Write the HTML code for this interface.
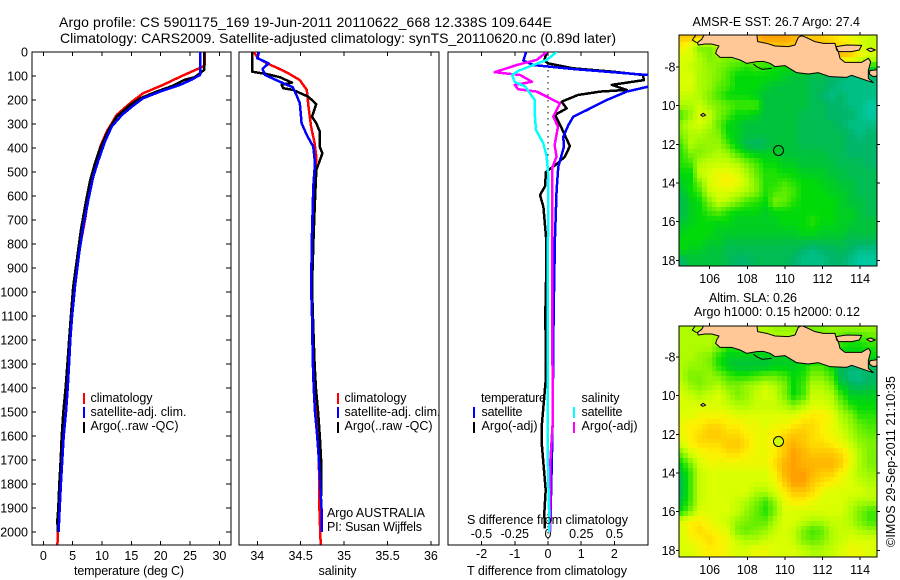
<!DOCTYPE html>
<html lang="en">
<head>
<meta charset="utf-8">
<title>Argo profile CS 5901175_169</title>
<style>
html,body{margin:0;padding:0;background:#fff;}
svg{display:block;}
text{font-family:"Liberation Sans",sans-serif;font-size:12.5px;fill:#000;}
.ttl{font-size:14px;}
.coast{fill:#ffc896;stroke:#000;stroke-width:3;stroke-linejoin:round;}
.coastline{fill:none;stroke:#000;stroke-width:3;}
</style>
</head>
<body>
<svg id="chart" width="900" height="580" viewBox="0 0 900 580" xmlns="http://www.w3.org/2000/svg">
<defs>
<clipPath id="clip-temp"><rect x="32" y="52" width="199" height="493"/></clipPath>
<clipPath id="clip-sal"><rect x="239" y="52" width="200" height="493"/></clipPath>
<clipPath id="clip-diff"><rect x="448" y="52" width="200" height="493"/></clipPath>
<clipPath id="clip-map1"><rect x="679" y="35" width="198" height="231"/></clipPath>
<clipPath id="clip-map2"><rect x="679" y="326" width="198" height="231"/></clipPath>
</defs>
<rect width="900" height="580" fill="#fff"/>

<text class="ttl" x="59" y="27" textLength="493" lengthAdjust="spacing">Argo profile: CS 5901175_169 19-Jun-2011 20110622_668 12.338S 109.644E</text>
<text class="ttl" x="60" y="43" textLength="556" lengthAdjust="spacing">Climatology: CARS2009. Satellite-adjusted climatology: synTS_20110620.nc (0.89d later)</text>

<g id="map1-cells" clip-path="url(#clip-map1)"></g>
<g clip-path="url(#clip-map1)">
<g transform="translate(660,0) scale(0.33333)">
<path class="coast" d="M135 100 L125 118 L112 128 L115 135 L135 132 L155 132 L177 138 L170 150 L167 160 L180 172 L215 172 L240 180 L260 190 L290 185 L310 184 L330 190 L345 200 L375 197 L385 203 L410 218 L445 222 L475 218 L510 230 L560 232 L575 226 L610 238 L640 248 L625 235 L625 212 L632 185 L625 175 L605 187 L555 187 L540 175 L535 155 L530 150 L525 130 L490 130 L465 125 L440 113 L425 107 L415 112 L405 135 L385 140 L345 138 L320 130 L293 125 L290 100 Z"/>
<path class="coast" d="M528 140 L560 135 L605 136 L598 150 L575 155 L535 155 Z"/>
<path class="coast" d="M630 212 L660 208 L660 226 L640 230 L628 222 Z"/>
<path class="coast" d="M620 148 L632 144 L646 150 L632 155 Z"/>
<path class="coastline" d="M280 192 L290 200 L307 208 L335 205"/>
<path class="coastline" d="M107 106 L97 120 L110 128"/>
<path class="coast" d="M122 345 L130 340 L137 346 L128 349 Z"/>
</g>
</g>

<g id="map2-cells" clip-path="url(#clip-map2)"></g>
<g clip-path="url(#clip-map2)">
<g transform="translate(660,290) scale(0.33333)">
<path class="coast" d="M135 100 L125 118 L112 128 L115 135 L135 132 L155 132 L177 138 L170 150 L167 160 L180 172 L215 172 L240 180 L260 190 L290 185 L310 184 L330 190 L345 200 L375 197 L385 203 L410 218 L445 222 L475 218 L510 230 L560 232 L575 226 L610 238 L640 248 L625 235 L625 212 L632 185 L625 175 L605 187 L555 187 L540 175 L535 155 L530 150 L525 130 L490 130 L465 125 L440 113 L425 107 L415 112 L405 135 L385 140 L345 138 L320 130 L293 125 L290 100 Z"/>
<path class="coast" d="M528 140 L560 135 L605 136 L598 150 L575 155 L535 155 Z"/>
<path class="coast" d="M630 212 L660 208 L660 226 L640 230 L628 222 Z"/>
<path class="coast" d="M620 148 L632 144 L646 150 L632 155 Z"/>
<path class="coastline" d="M280 192 L290 200 L307 208 L335 205"/>
<path class="coastline" d="M107 106 L97 120 L110 128"/>
<path class="coast" d="M122 345 L130 340 L137 346 L128 349 Z"/>
</g>
</g>

<g id="axes"></g>
<g id="temp-lines" clip-path="url(#clip-temp)"></g>
<g id="sal-lines" clip-path="url(#clip-sal)"></g>
<g id="diff-lines" clip-path="url(#clip-diff)"></g>

<g>
<rect x="83" y="393" width="2" height="11" fill="#f00"/>
<rect x="83" y="407" width="2" height="11" fill="#00f"/>
<rect x="83" y="422" width="2" height="11" fill="#000"/>
<text x="90.5" y="402" textLength="62">climatology</text>
<text x="90.5" y="416" textLength="96">satellite-adj. clim.</text>
<text x="90.5" y="430" textLength="88">Argo(..raw -QC)</text>
</g>
<g>
<rect x="337" y="393" width="2" height="11" fill="#f00"/>
<rect x="337" y="407" width="2" height="11" fill="#00f"/>
<rect x="337" y="422" width="2" height="11" fill="#000"/>
<text x="344.5" y="402" textLength="62">climatology</text>
<text x="344.5" y="416" textLength="96">satellite-adj. clim.</text>
<text x="344.5" y="430" textLength="88">Argo(..raw -QC)</text>
<text x="327" y="517" textLength="98">Argo AUSTRALIA</text>
<text x="327" y="531" textLength="95">PI: Susan Wijffels</text>
</g>
<g>
<text x="481" y="402" textLength="65">temperature</text>
<rect x="473" y="407" width="2" height="11" fill="#00f"/>
<rect x="473" y="422" width="2" height="11" fill="#000"/>
<text x="481.5" y="416" textLength="41">satellite</text>
<text x="481.5" y="430" textLength="56">Argo(-adj)</text>
<text x="581.5" y="402" textLength="38">salinity</text>
<rect x="573" y="407" width="2" height="11" fill="#0ff"/>
<rect x="573" y="422" width="2" height="11" fill="#f0f"/>
<text x="581.5" y="416" textLength="41">satellite</text>
<text x="581.5" y="430" textLength="56">Argo(-adj)</text>
</g>

<text x="467" y="524" textLength="161">S difference from climatology</text>
<text x="74" y="575" textLength="110">temperature (deg C)</text>
<text x="318.5" y="575" textLength="38">salinity</text>
<text x="467" y="575" textLength="160">T difference from climatology</text>

<text x="692.5" y="26" textLength="167.5">AMSR-E SST: 26.7 Argo: 27.4</text>
<text x="709" y="302" textLength="88">Altim. SLA: 0.26</text>
<text x="694" y="316" textLength="166">Argo h1000: 0.15 h2000: 0.12</text>
<text transform="translate(895,547) rotate(-90)" textLength="171">©IMOS 29-Sep-2011 21:10:35</text>

<circle cx="778.5" cy="150.5" r="5" fill="#00c828" stroke="#000" stroke-width="1"/>
<circle cx="778.5" cy="441.5" r="5" fill="#d2ff00" stroke="#000" stroke-width="1"/>

<script>
// ---------- Profile data (depth in dbar, values in physical units) ----------
const depthTicks = [0,100,200,300,400,500,600,700,800,900,1000,1100,1200,1300,1400,1500,1600,1700,1800,1900,2000];
const tempTicks = [0,5,10,15,20,25,30];
const salTicks = [34,34.5,35,35.5,36];
const salTickLabels = ['34','34.5','35','35.5','36'];
const tDiffTicks = [-2,-1,0,1,2];
const sDiffTicks = [-0.5,-0.25,0,0.25,0.5];
const sDiffTickLabels = ['-0.5','-0.25','0','0.25','0.5'];
const lonTicks = [106,108,110,112,114];
const latTicks = [-8,-10,-12,-14,-16,-18];
const latTickLabels = ['-8','10','12','14','16','18'];

const tempClimDepth = [0,54,61,100,137,172,207,262,332,395,478,555,700,811,936,1000,1100,1200,1300,1400,1500,1600,1700,1800,1900,2000,2053];
const tempClimValue = [27.5,27.5,27.2,23.6,20.4,17,15.1,12.5,10.8,9.7,8.8,8,7.1,6.25,5.4,5.15,4.85,4.55,4.35,4.1,3.85,3.45,3.2,3,2.75,2.5,2.4];
const tempSatDepth = [0,96,115,137,165,193,228,262,311,374,450,520,617,728,840,978,1100,1200,1300,1400,1500,1600,1700,1800,1900,2000];
const tempSatValue = [26.7,26.7,25.3,23.3,19.9,17,15.1,13.4,11.65,10.5,9.4,8.5,7.67,6.8,6.1,5.4,4.9,4.6,4.4,4.15,3.87,3.47,3.24,3,2.8,2.6];
const tempArgoDepth = [0,75,105,116,142,165,193,220,270,325,400,463,533,617,742,853,978,1100,1200,1300,1400,1500,1600,1700,1800,1900,1950,2000];
const tempArgoValue = [27.4,27.4,25.8,24.1,21.9,19.3,16.5,14.8,12.5,11.1,9.7,8.8,8,7.3,6.4,5.8,5.1,4.7,4.4,4.1,3.8,3.4,3.13,2.96,2.73,2.56,2.4,2.45];

const salClimDepth = [0,6,26,47,68,89,117,158,228,311,380,436,500,600,800,1000,1200,1400,1500,1700,1900,2053];
const salClimValue = [33.97,33.97,34.01,34.11,34.24,34.36,34.49,34.57,34.59,34.62,34.66,34.68,34.67,34.665,34.64,34.63,34.64,34.66,34.68,34.71,34.715,34.73];
const salSatDepth = [0,26,47,71,96,124,147,179,213,297,346,395,463,560,755,978,1100,1200,1300,1400,1500,1600,1700,1800,1900,2000];
const salSatValue = [34.02,34,34.13,34.06,34.09,34.26,34.41,34.45,34.49,34.51,34.57,34.645,34.665,34.645,34.63,34.62,34.63,34.635,34.64,34.65,34.665,34.69,34.71,34.725,34.74,34.745];
const salArgoDepth = [0,82,92,105,128,137,151,158,186,217,270,297,332,395,422,492,617,755,978,1100,1200,1300,1400,1500,1600,1700,1850];
const salArgoValue = [33.94,33.94,34.11,34.26,34.4,34.28,34.3,34.41,34.585,34.68,34.63,34.68,34.72,34.72,34.75,34.68,34.665,34.65,34.63,34.64,34.65,34.66,34.675,34.7,34.72,34.735,34.74];

const tDiffSatDepth = [0,36,54,71,96,115,145,165,200,242,270,305,353,395,478,575,770,1000,1200,1367,1546,1728,1850,2000];
const tDiffSatValue = [-0.66,-0.74,-0.45,0.75,3.0,3.6,3.0,2.37,1.77,1.17,0.76,0.61,0.46,0.48,0.31,0.26,0.21,0.18,0.16,0.15,0.14,0.11,0.09,0.07];
const tDiffArgoDepth = [0,36,47,68,82,96,117,137,158,165,179,207,235,262,304,317,392,436,467,499,560,596,645,770,900,1100,1300,1367,1450,1546,1630,1728,1825,1922,1985];
const tDiffArgoValue = [-0.04,-0.11,0,0.75,1.96,2.86,2.89,1.92,2.37,1.57,0.9,0.41,0.56,0.21,0.36,0.41,0.66,0.51,0.26,-0.06,-0.09,-0.24,-0.14,-0.06,-0.05,-0.08,-0.06,-0.07,-0.12,-0.18,-0.19,-0.13,-0.07,-0.11,-0.09];
const sDiffSatDepth = [0,33,54,78,96,124,145,200,256,325,380,436,500,770,1200,1546,1728,1922,2000];
const sDiffSatValue = [0.065,-0.01,-0.11,-0.22,-0.27,-0.25,-0.17,-0.1,-0.1,-0.09,-0.035,-0.01,0,0,-0.002,-0.002,0,0.008,0.008];
const sDiffArgoDepth = [0,33,54,84,96,124,137,155,165,186,214,270,311,388,436,485,770,1200,1410,1546,1728,2000];
const sDiffArgoValue = [-0.01,-0.085,-0.235,-0.4,-0.21,-0.12,-0.25,-0.225,-0.085,-0.01,0.09,0.04,0.075,0.05,0.065,0.03,0.03,0.032,0.035,0.035,0.015,0.015];

// ---------- Map grids: colour-scale level, rows lat -6.5..-18, cols lon 104.5..114.5 (0.5 deg) ----------
const sstValues = [
[9,9,9,9,9,9,9,9,9.5,10,10,10,9.5,9,9,9,8.5,8,7.5,7,6.5],
[8,7,5,5,6,6,9,9,9,9,9,9,9,9,9,9,9,8.5,8,7,6.5],
[7,7,6,5,5.5,5,5,5,5,5,5,5,5,5,5,9,9.5,9.5,9,8,7],
[7,6.5,6,5.5,5,4.5,4,3.5,4,3.5,3,3,3,3,3,3,3,3,3,3,3],
[7,7,6,5.5,5,4,3,3,3,3,3,2.5,2,2,1.5,1.5,1,1,0.5,0.5,1],
[7,7,6,5.5,4.5,4,3,3,3,2.5,2,2,2,2,1.5,1.5,1,0.5,0.5,0.5,0.5],
[6.5,6.5,6,5,4,3,3,3,2.5,2,2,2,2,2,1.5,1,0.5,1,0.5,0.5,0.5],
[6,6,6.5,5.5,5,4.5,4,4,4,2,2,2,2,2,1.5,1.5,1,1,0.5,0.5,0],
[4,5.5,7,6.5,5,4,3,3,2.5,2,2,2,2,1.5,1.5,1.5,1,1,1,0.5,0],
[5.5,6.5,7,6,4.5,3,2.5,2,2,2,2,2,2,1.5,1.5,1.5,1.5,1,0.5,0.5,0.5],
[5,6,6,5.5,5,3,2.5,2,2,2,2,2,2,1.5,1.5,1.5,1.5,1.5,1,0.5,1],
[4,6,5.5,5.5,5.5,4,2.5,1.5,1,1.5,2,2,2,1.5,1.5,1.5,1.5,1.5,1,1,1],
[3.5,5,5,5.5,6,5.5,4,3,2.5,2.5,2.5,2,2,2,2,2,1.5,1.5,1,1,1],
[3.5,4,6,6.5,6.5,6.5,6,5,4,3,3,2.5,2.5,2,2,2,2,1.5,1.5,1.5,1],
[3,3,6.5,7,7.5,7.5,7,6,4.5,3.5,3.5,3,3,2.5,2.5,2.5,2,2,1.5,1.5,1.5],
[2.5,3,5,7,7.5,8,7.5,6.5,5,3.5,3.5,4,3.5,3,3,2.5,2.5,2,2,1.5,1.5],
[2,3,4,6.5,7,7,6.5,6,5,3.5,4,4.5,4,3,3,3,2.5,2.5,2,1.5,1.5],
[1.5,2.5,3,5,6.5,6,5,4,3.5,3,5,4.5,3.5,3,3,3,3,2.5,2,2,1.5],
[1.5,2.5,3,4,4.5,3.5,3,3,3,2.5,3,3,3,3,3,3,3,2.5,2.5,2,1.5],
[2,2.5,3,3,3,3,2.5,2.5,2.5,2.5,2.5,3,3,3,3.5,3,3,2.5,2.5,2,2],
[2.5,3,3,3,2.5,2.5,2.5,2.5,2.5,2.5,2.5,2.5,2.5,3,3,2.5,2.5,2.5,2,2,2],
[3,3,3,2.5,2.5,2,2,2,2,2,2,2,2,2,2,2,2,2,1.5,1.5,1.5],
[3,2.5,2.5,2,2,1.5,1.5,1.5,1.5,1.5,1.5,1.5,1.5,1,0.5,1,1,1.5,1,0.5,0.5],
[1,2,2,2,2,1.5,1,1,1.5,1.5,1.5,1.5,1,0.5,0.5,0.5,1,1,0.5,0,0]
];
const slaValues = [
[6,6,6,6,6,6,6,6,6,6,5.5,5.5,5.5,5,5,5,5.5,5.5,5.5,5.5,5.5],
[6,6,6,6,6,6,6,6,6,6,6,6,6,5.5,5,5,5,4.5,4,4,4.5],
[6,6,6,6,5,3.5,3.5,3.5,3.5,3,3,3,3,3,3,3,3,3.5,3,3,3.5],
[6,6,5.5,5,3.5,2.5,2.5,2.5,2.5,2.5,2.5,2.5,2.5,2.5,2.5,2.5,2.5,2.5,2.5,2.5,3],
[6,5.5,5.5,5,3.5,2.5,2,2,2,2,2.5,2.5,2.5,3,4,4,3,1.5,1,1,1.5],
[6,5,5,5.5,5,4,3.5,3.5,4,4.5,4.5,4,3,3.5,5,5,4,1.5,0.5,0.5,1],
[6.5,5.5,5,5.5,6,5,5,5.5,6,6.5,6,5,3,4,6,6,5,2.5,1.5,1,1.5],
[7,6.5,6,6.5,7,6,5,5.5,6.5,7,6.5,5,3,4,6.5,6.5,6,4,2.5,2.5,2.5],
[7,7,7,7,7,6.5,6,6,6.5,6.5,6.5,6,5,6,7,7,6.5,5,3.5,3,3],
[7,7,7.5,7.5,7.5,7.5,7,7,7,7,7,7,7,7.5,8,8,7.5,6,5,3.5,3.5],
[7.5,8,8,8.5,8.5,8,8,7.5,7.5,7,7.5,7.5,8,8.5,8.5,8,7.5,6.5,5.5,4.5,4],
[7.5,8,8.5,9,9,8.5,8.5,8,7.5,7.5,8,8.5,9,9,8.5,8,7.5,7,6,5,4.5],
[7,8,8.5,8.5,8.5,9,9,8.5,7.5,7.5,8,9,9.5,9,8.5,8.5,8,7.5,6.5,5.5,5],
[5,7,7.5,8,8,8.5,8.5,8,7.5,7.5,8,9,10,9.5,9,9,9,8.5,7.5,6,5],
[3,5,7,7.5,7.5,7.5,7.5,7.5,7.5,7.5,8.5,9.5,10,9.5,9.5,9.5,9.5,9,7.5,6,5],
[2,4,6.5,7,7,7,7,7,7,7,8,9.5,10,10,9.5,9,9,8,7,6,5.5],
[1.5,4,6.5,7,7,7,7,7,7,7,7.5,9,10,10,9,8.5,8,7.5,7,6.5,6],
[1.5,4,6.5,7,7,7,7,7,6,6,7,8,9,9,8.5,7.5,7,7,7,7,6.5],
[2,4,6.5,7,7,7,6.5,6,5,4,5.5,7.5,8,8,7.5,7,7,7,6.5,6,6],
[3,5,7,7,7,7,6.5,5.5,4.5,3.5,5,7,7,7,7,7,7,7,6,5,4],
[7,8,8,7.5,7,6.5,5.5,5,4.5,4.5,6,7,7,6.5,6,6,6.5,6.5,6,5,4],
[7,8,8.5,8,7.5,7,5,4.5,5,5.5,6.5,7,6.5,5,4,4.5,6,6.5,6.5,6,5.5],
[7,7.5,8,8.5,8,7.5,6.5,6,6,6.5,7,7,6.5,5,4.5,5,6,6.5,7,7,7],
[7,7,7.5,8,8,7.5,7,7,7.5,7.5,7,7,7,6.5,6,6,6.5,7,7.5,7.5,7]
];
const colourLevels = ['0,200,160','0,182,105','0,195,60','0,218,8','65,232,0','125,242,0','175,252,0','218,255,0','255,240,0','255,200,0','255,160,0'];

// ---------- Axis functions ----------
const depthY = d => 52 + d * 0.24;
const tempX = t => 43.3 + t * 5.87;
const salX = s => 257.3 + (s - 34) * 86.8;
const tDiffX = t => 548 + t * 33.2;
const sDiffX = s => 548 + s * 133;
const lonX = lon => 709.7 + (lon - 106) * 18.8;
const latY1 = lat => 67 + (-8 - lat) * 19.33;
const latY2 = lat => 357 + (-8 - lat) * 19.33;

const NS = 'http://www.w3.org/2000/svg';
const root = document.getElementById('chart');
const axes = document.getElementById('axes');
function make(parent, tag, attrs) {
  const el = document.createElementNS(NS, tag);
  for (const k in attrs) el.setAttribute(k, attrs[k]);
  parent.appendChild(el);
  return el;
}
function tick(x1, y1, x2, y2) {
  const el = make(axes, 'line', {x1, y1, x2, y2, stroke: '#000', 'stroke-width': 1, 'shape-rendering': 'crispEdges'});
  
  
}
function label(str, x, y, anchor) {
  const el = make(axes, 'text', {x, y, 'text-anchor': anchor});
  el.textContent = str;
  
  
}
function frame(x, y, w, h) {
  const el = make(axes, 'rect', {x, y, width: w, height: h, fill: 'none', stroke: '#000', 'stroke-width': 1.4, 'shape-rendering': 'crispEdges'});
  
  
}
function series(parentId, depth, values, xFn, colour) {
  const pts = depth.map((d, i) => xFn(values[i]).toFixed(1) + ',' + depthY(d).toFixed(1)).join(' ');
  const el = make(document.getElementById(parentId), 'polyline', {points: pts, fill: 'none', stroke: colour, 'stroke-width': 2.5, 'shape-rendering': 'crispEdges', 'stroke-linejoin': 'round'});
  
  
}

// ---------- Heatmaps ----------
function mix(level) {
  const v = Math.max(0, Math.min(colourLevels.length - 1, level));
  const i = Math.min(colourLevels.length - 2, Math.floor(v));
  const f = v - i;
  const a = colourLevels[i].split(',').map(Number);
  const b = colourLevels[i + 1].split(',').map(Number);
  return 'rgb(' + a.map((c, k) => Math.round(c + (b[k] - c) * f)).join(',') + ')';
}
function sample(grid, lon, lat) {
  const cf = Math.max(0, Math.min(grid[0].length - 1.001, (lon - 104.5) / 0.5));
  const rf = Math.max(0, Math.min(grid.length - 1.001, (-6.5 - lat) / 0.5));
  const c = Math.floor(cf), r = Math.floor(rf), u = cf - c, w = rf - r;
  return (grid[r][c] * (1 - u) + grid[r][c + 1] * u) * (1 - w) + (grid[r + 1][c] * (1 - u) + grid[r + 1][c + 1] * u) * w;
}
function heatmap(groupId, grid, yFn) {
  const g = document.getElementById(groupId);
  const dLon = 0.25, dLat = 0.25;
  for (let lon = 104.375; lon < 115; lon += dLon) {
    for (let lat = -6.25; lat > -18.6; lat -= dLat) {
      const x0 = Math.floor(lonX(lon)), x1 = Math.floor(lonX(lon + dLon));
      const y0 = Math.floor(yFn(lat)), y1 = Math.floor(yFn(lat - dLat));
      const cell = make(g, 'rect', {x: x0, y: y0, width: x1 - x0, height: y1 - y0, fill: mix(sample(grid, lon + dLon / 2, lat - dLat / 2)), 'shape-rendering': 'crispEdges'});
      
      
    }
  }
}
heatmap('map1-cells', sstValues, latY1);
heatmap('map2-cells', slaValues, latY2);

// ---------- Frames and ticks: profile panels ----------
frame(32, 52, 199, 493);
frame(239, 52, 200, 493);
frame(448, 52, 200, 493);

depthTicks.forEach(d => {
  tick(32, depthY(d), 36, depthY(d));
  tick(226, depthY(d), 231, depthY(d));
  label(String(d), 28, depthY(d) + 4.5, 'end');
});
tempTicks.forEach(t => {
  tick(tempX(t), 52, tempX(t), 56);
  tick(tempX(t), 541, tempX(t), 545);
  label(String(t), tempX(t), 560, 'middle');
});
salTicks.forEach((s, i) => {
  tick(salX(s), 52, salX(s), 56);
  tick(salX(s), 541, salX(s), 545);
  label(salTickLabels[i], salX(s), 560, 'middle');
});
tDiffTicks.forEach(t => {
  tick(tDiffX(t), 52, tDiffX(t), 56);
  tick(tDiffX(t), 541, tDiffX(t), 545);
  label(String(t), tDiffX(t), 558, 'middle');
});
sDiffTicks.forEach((s, i) => {
  label(sDiffTickLabels[i], sDiffX(s), 538, 'middle');
});

const zeroLine = make(document.getElementById('diff-lines'), 'line', {x1: tDiffX(0), y1: 52, x2: tDiffX(0), y2: 545, stroke: '#000', 'stroke-width': 1.2, 'stroke-dasharray': '1.5 4.5', 'shape-rendering': 'crispEdges'});



// ---------- Series ----------
series('temp-lines', tempClimDepth, tempClimValue, tempX, '#f00');
series('temp-lines', tempArgoDepth, tempArgoValue, tempX, '#000');
series('temp-lines', tempSatDepth, tempSatValue, tempX, '#00f');
series('sal-lines', salClimDepth, salClimValue, salX, '#f00');
series('sal-lines', salArgoDepth, salArgoValue, salX, '#000');
series('sal-lines', salSatDepth, salSatValue, salX, '#00f');
series('diff-lines', tDiffArgoDepth, tDiffArgoValue, tDiffX, '#000');
series('diff-lines', tDiffSatDepth, tDiffSatValue, tDiffX, '#00f');
series('diff-lines', sDiffArgoDepth, sDiffArgoValue, sDiffX, '#f0f');
series('diff-lines', sDiffSatDepth, sDiffSatValue, sDiffX, '#0ff');

// ---------- Map frames and ticks ----------
[[35, 266, latY1], [326, 557, latY2]].forEach(m => {
  frame(679, m[0], 198, m[1] - m[0]);
  lonTicks.forEach(lon => {
    tick(lonX(lon), m[0] - 3, lonX(lon), m[0]);
    tick(lonX(lon), m[1], lonX(lon), m[1] + 3);
    label(String(lon), lonX(lon), m[1] + 17, 'middle');
  });
  latTicks.forEach((lat, i) => {
    tick(676, m[2](lat), 679, m[2](lat));
    tick(877, m[2](lat), 880, m[2](lat));
    label(latTickLabels[i], 675.5, m[2](lat) + 4.5, 'end');
  });
});
</script>
</svg>
</body>
</html>
